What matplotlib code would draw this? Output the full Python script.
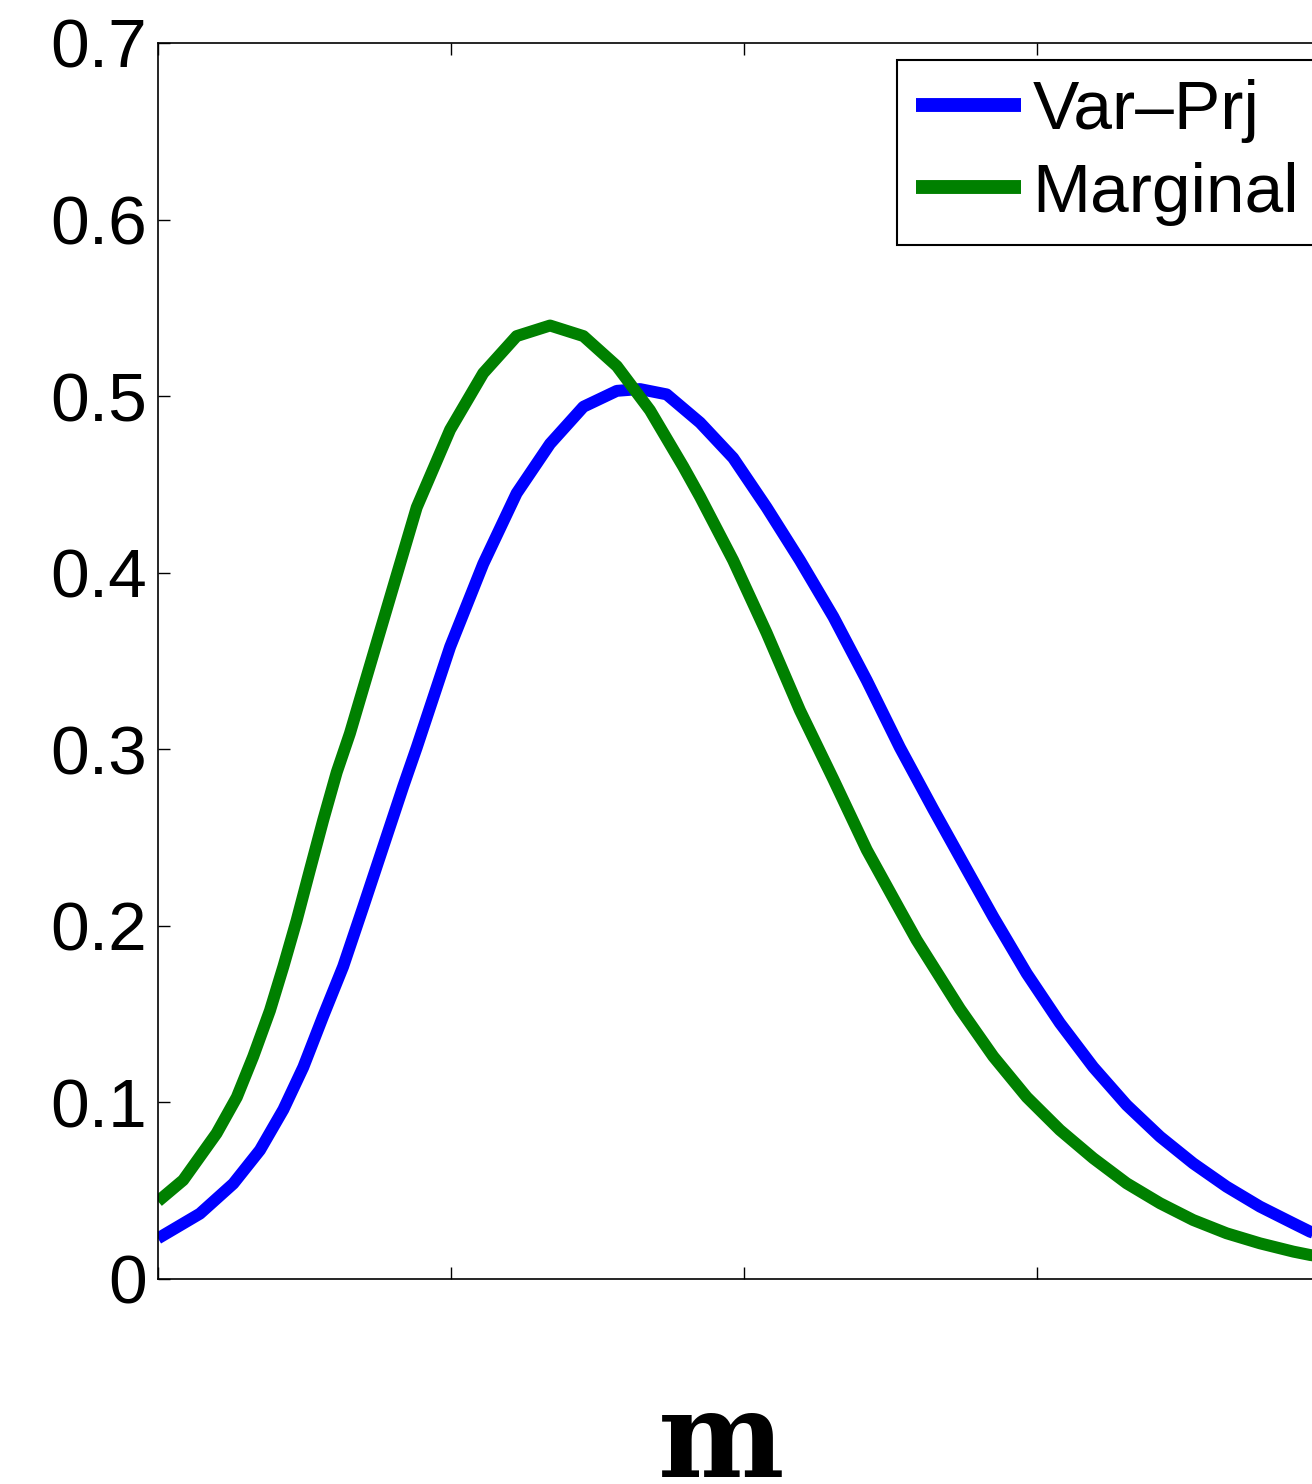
import matplotlib
matplotlib.use('Agg')
import matplotlib.pyplot as plt

# --- curve data (x in axis units 0..4) ---
x_varprj = [0.0, 0.143, 0.257, 0.348, 0.428, 0.496, 0.564, 0.632, 0.701, 0.769, 0.837,
            0.883, 0.997, 1.110, 1.224, 1.338, 1.452, 1.566, 1.645, 1.736, 1.850, 1.963,
            2.077, 2.191, 2.305, 2.419, 2.532, 2.646, 2.760, 2.851, 2.965, 3.078, 3.192,
            3.306, 3.420, 3.533, 3.647, 3.761, 3.875, 3.932, 4.0]
y_varprj = [0.023, 0.037, 0.054, 0.073, 0.096, 0.120, 0.149, 0.177, 0.211, 0.245, 0.279,
            0.301, 0.358, 0.405, 0.445, 0.473, 0.494, 0.503, 0.504, 0.501, 0.485, 0.465,
            0.437, 0.407, 0.375, 0.339, 0.301, 0.266, 0.232, 0.205, 0.173, 0.145, 0.120,
            0.0985, 0.0806, 0.0655, 0.0523, 0.041, 0.0315, 0.0268, 0.023]

x_marg = [0.0, 0.086, 0.200, 0.269, 0.325, 0.382, 0.428, 0.473, 0.519, 0.564, 0.610,
          0.655, 0.769, 0.883, 0.997, 1.110, 1.224, 1.338, 1.452, 1.566, 1.679, 1.793,
          1.850, 1.963, 2.077, 2.191, 2.305, 2.419, 2.532, 2.589, 2.737, 2.851, 2.965,
          3.078, 3.192, 3.306, 3.420, 3.533, 3.647, 3.761, 3.875, 3.932, 4.0]
y_marg = [0.044, 0.056, 0.0825, 0.103, 0.126, 0.152, 0.177, 0.203, 0.232, 0.260, 0.287,
          0.309, 0.373, 0.437, 0.481, 0.513, 0.534, 0.540, 0.534, 0.517, 0.492, 0.460,
          0.443, 0.407, 0.366, 0.322, 0.283, 0.243, 0.209, 0.192, 0.153, 0.126, 0.103,
          0.0844, 0.0684, 0.0542, 0.0429, 0.0334, 0.0259, 0.0202, 0.0155, 0.0136, 0.012]

labels = ['Var\u2013Prj', 'Marginal']
yticks = [0, 0.1, 0.2, 0.3, 0.4, 0.5, 0.6, 0.7]
yticklabels = ['0', '0.1', '0.2', '0.3', '0.4', '0.5', '0.6', '0.7']

plt.rcParams['font.family'] = ['Liberation Sans', 'DejaVu Sans']

W, H = 1312, 1484
fig = plt.figure(figsize=(W / 100, H / 100), dpi=100)
# axes runs past the right edge, as in the reference
ax = fig.add_axes([158 / W, 1 - 1279 / H, (1330 - 158) / W, (1279 - 43) / H])

lw = 8.6
ax.plot(x_varprj, y_varprj, color='blue', linewidth=lw, label=labels[0],
        solid_capstyle='butt', solid_joinstyle='round')
ax.plot(x_marg, y_marg, color='green', linewidth=lw, label=labels[1],
        solid_capstyle='butt', solid_joinstyle='round')

ax.set_xlim(0, 4)
ax.set_ylim(0, 0.7)
ax.set_xticks([0, 1, 2, 3, 4])
ax.set_xticklabels([])
ax.set_yticks(yticks)
ax.set_yticklabels(yticklabels)
ax.tick_params(direction='in', top=True, right=True, length=8.6, width=1.0,
               labelsize=50, pad=8)
for s in ax.spines.values():
    s.set_linewidth(1.2)

leg = ax.legend(loc='upper left', bbox_to_anchor=(897 / W, 1 - 60 / H),
                bbox_transform=fig.transFigure, fontsize=50, handlelength=1.5,
                handletextpad=0.17, borderpad=0.28, labelspacing=0.26,
                borderaxespad=0, fancybox=False, framealpha=1, edgecolor='black')
leg.get_frame().set_linewidth(1.5)
for line in leg.get_lines():
    line.set_linewidth(10)

# x label, partly cut at the bottom edge like the reference
fig.text(721 / W, 1 - 1477 / H, 'm', ha='center', va='baseline',
         fontsize=86, fontweight='bold', family='DejaVu Serif')

plt.savefig('out.png', dpi=100)
